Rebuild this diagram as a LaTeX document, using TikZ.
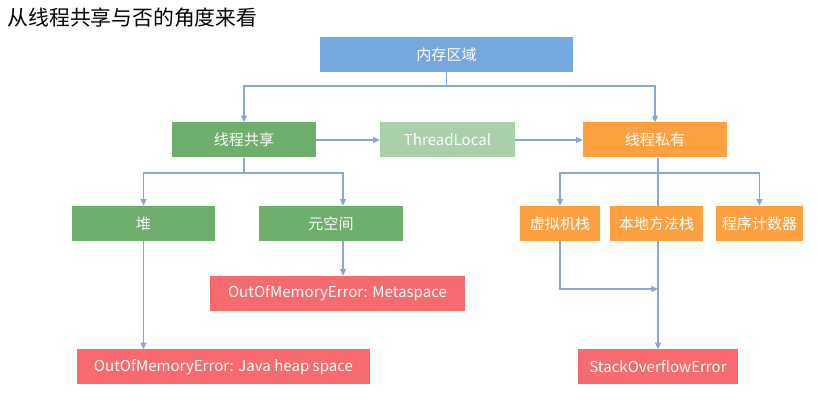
\documentclass[tikz,border=0pt]{standalone}
\usepackage{fontspec}
\setmainfont{Noto Sans CJK SC}
\usetikzlibrary{arrows.meta}
\definecolor{cblue}{HTML}{74A9E0}
\definecolor{cgreen}{HTML}{6DAE6B}
\definecolor{clgreen}{HTML}{A9D0A9}
\definecolor{corange}{HTML}{FFA040}
\definecolor{cred}{HTML}{F76B6E}
\definecolor{cline}{HTML}{86A8D2}
\begin{document}
\begin{tikzpicture}[x=0.75pt,y=-0.75pt,
  box/.style={draw=none,text=white,font=\fontsize{11.3}{13}\selectfont,inner sep=0pt,minimum height=26.25pt},
  ln/.style={draw=cline,line width=0.9pt},
  ar/.style={ln,-{Triangle[length=5pt,width=4.5pt]}}]
\useasboundingbox (0,0) rectangle (818,413);
\node[anchor=west,font=\fontsize{15.6}{18}\selectfont] (title) at (3,18) {从线程共享与否的角度来看};
\node[box,fill=cblue,minimum width=190pt] (mem) at (446.5,54.5) {内存区域};
\node[box,fill=cgreen,minimum width=108pt] (sh) at (244,140) {线程共享};
\node[box,fill=clgreen,minimum width=101pt] (tl) at (447.5,140) {ThreadLocal};
\node[box,fill=corange,minimum width=108pt] (pr) at (655,140) {线程私有};
\node[box,fill=cgreen,minimum width=107pt] (heap) at (143.5,223.5) {堆};
\node[box,fill=cgreen,minimum width=108pt] (meta) at (331,223.5) {元空间};
\node[box,fill=cred,minimum width=191pt] (oomm) at (337.5,293.5) {OutOfMemoryError: Metaspace};
\node[box,fill=cred,minimum width=220pt] (oomh) at (223.5,367) {OutOfMemoryError: Java heap space};
\node[box,fill=corange,minimum width=60pt] (vms) at (560,223.5) {虚拟机栈};
\node[box,fill=corange,minimum width=70pt] (nms) at (656.5,223.5) {本地方法栈};
\node[box,fill=corange,minimum width=65pt] (pc) at (759.5,223.5) {程序计数器};
\node[box,fill=cred,minimum width=120pt] (soe) at (658,367) {StackOverflowError};
\coordinate (j1) at (446.5,86);
\coordinate (j2) at (244,173);
\coordinate (j3) at (658,173);
\coordinate (j4) at (658,289);
\coordinate (m1) at (343,173);
\draw[ln] (mem.south) -- (j1);
\draw[ar] (j1) -| (sh.north);
\draw[ar] (j1) -| (pr.north);
\draw[ar] (sh.east) -- (tl.west);
\draw[ar] (tl.east) -- (pr.west);
\draw[ln] (sh.south) -- (j2);
\draw[ar] (j2) -| (heap.north);
\draw[ar] (j2) -- (m1) -- (m1 |- meta.north);
\draw[ar] (m1 |- meta.south) -- (m1 |- oomm.north);
\draw[ar] (heap.south) -- (heap.south |- oomh.north);
\draw[ln] (pr.south -| j3) -- (j3 |- nms.north);
\draw[ar] (j3) -| (vms.north);
\draw[ar] (j3) -| (pc.north);
\draw[ar] (vms.south) |- (j4);
\draw[ar] (nms.south -| j4) -- (j4 |- soe.north);
\end{tikzpicture}
\end{document}
